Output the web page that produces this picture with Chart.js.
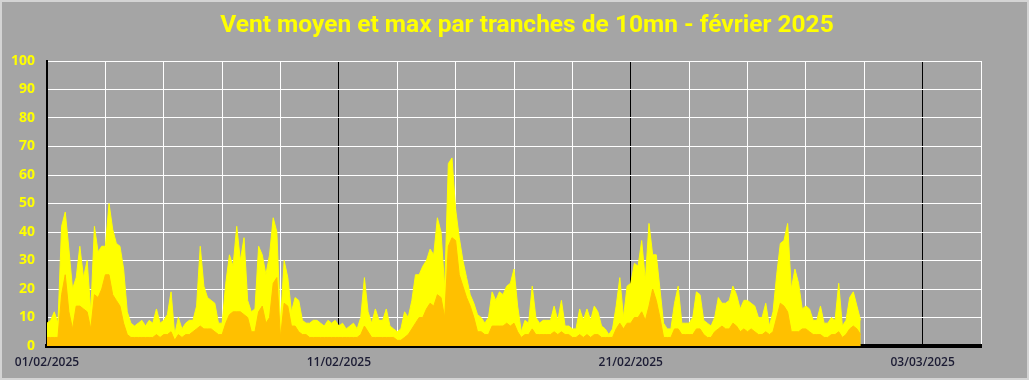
<!DOCTYPE html>
<html>
<head>
<meta charset="utf-8">
<script src="https://cdn.jsdelivr.net/npm/chart.js@4/dist/chart.umd.min.js"></script>
<style>
  body { margin: 0; background: #a5a5a5; }
  #wrap { width: 1029px; height: 380px; }
</style>
</head>
<body>
<div id="wrap"><canvas id="windChart" width="1029" height="380"></canvas></div>
<script>
// Vent max (km/h), un point toutes les 3 heures, 8 par jour, du 01/02 au 28/02
const maxWind = [
  8, 9, 12, 8, 42, 47, 34, 20,
  24, 35, 24, 30, 12, 42, 33, 35,
  35, 50, 41, 36, 35, 27, 12, 8,
  7, 8, 9, 7, 9, 8, 13, 8,
  9, 11, 19, 4, 10, 6, 8, 9,
  9, 14, 35, 21, 17, 16, 15, 8,
  8, 22, 32, 28, 42, 30, 38, 16,
  12, 13, 35, 32, 25, 32, 45, 40,
  8, 30, 24, 12, 17, 16, 9, 8,
  8, 9, 9, 8, 7, 9, 8, 9,
  7, 8, 6, 7, 8, 6, 10, 24,
  12, 8, 13, 9, 9, 13, 7, 6,
  5, 6, 12, 10, 16, 25, 25, 28,
  30, 34, 32, 45, 40, 20, 64, 66,
  48, 38, 30, 24, 18, 15, 11, 10,
  8, 10, 19, 16, 19, 18, 21, 22,
  27, 14, 5, 9, 8, 21, 10, 8,
  9, 9, 9, 14, 9, 16, 7, 7,
  6, 6, 13, 9, 13, 9, 14, 12,
  7, 6, 4, 6, 14, 24, 10, 21,
  22, 29, 28, 37, 23, 43, 32, 32,
  20, 8, 6, 6, 15, 21, 8, 8,
  8, 10, 19, 18, 9, 8, 7, 10,
  17, 15, 15, 16, 21, 18, 13, 16,
  16, 15, 14, 10, 10, 15, 7, 12,
  25, 36, 37, 43, 20, 27, 22, 13,
  14, 13, 9, 9, 14, 8, 8, 10,
  9, 22, 7, 9, 17, 19, 14, 9
];

// Vent moyen (km/h), même pas de temps
const meanWind = [
  3, 3, 3, 3, 18, 25, 12, 6,
  14, 14, 13, 12, 6, 18, 17, 20,
  25, 25, 18, 16, 14, 8, 4, 3,
  3, 3, 3, 3, 3, 3, 4, 3,
  4, 4, 5, 2, 4, 3, 4, 4,
  5, 6, 7, 6, 6, 6, 5, 4,
  4, 8, 11, 12, 12, 12, 11, 10,
  5, 5, 12, 14, 8, 10, 22, 24,
  3, 15, 14, 7, 7, 5, 4, 4,
  3, 3, 3, 3, 3, 3, 3, 3,
  3, 3, 3, 3, 3, 3, 4, 7,
  5, 3, 3, 3, 3, 3, 3, 3,
  2, 2, 3, 4, 6, 8, 10, 10,
  13, 15, 14, 18, 17, 10, 35, 38,
  37, 25, 21, 17, 14, 10, 5, 5,
  4, 4, 7, 7, 7, 7, 8, 7,
  8, 5, 3, 4, 4, 6, 4, 4,
  4, 4, 4, 5, 4, 5, 4, 4,
  3, 3, 4, 3, 4, 3, 4, 4,
  3, 3, 3, 3, 6, 8, 6, 8,
  8, 10, 10, 12, 9, 14, 20, 16,
  10, 3, 3, 3, 6, 6, 4, 4,
  4, 4, 6, 6, 4, 3, 3, 5,
  6, 7, 6, 6, 8, 7, 5, 6,
  5, 6, 5, 4, 4, 5, 4, 5,
  10, 15, 14, 12, 5, 5, 5, 6,
  6, 5, 4, 4, 4, 3, 3, 4,
  4, 5, 3, 4, 6, 7, 6, 4
];

const pointsPerDay = 8;
const dateLabels = ["01/02/2025", "11/02/2025", "21/02/2025", "03/03/2025"];
const yTicks = [0, 10, 20, 30, 40, 50, 60, 70, 80, 90, 100];
const chartTitle = "Vent moyen et max par tranches de 10mn - février 2025";

function toPoints(values) {
    return values.map((v, i) => ({ x: i / pointsPerDay, y: v }));
}

// fond gris, liseré clair et titre jaune
const frame = {
    id: "frame",
    beforeDraw(chart) {
        const c = chart.ctx;
        c.save();
        c.fillStyle = "#a5a5a5";
        c.fillRect(0, 0, chart.width, chart.height);
        c.strokeStyle = "#d4d4d4";
        c.lineWidth = 2;
        c.strokeRect(1, 1, chart.width - 2, chart.height - 2);
        c.restore();
    },
    afterDraw(chart) {
        const c = chart.ctx;
        c.save();
        c.fillStyle = "#ffff00";
        c.font = "bold 24.5px Roboto, sans-serif";
        c.textAlign = "center";
        c.textBaseline = "middle";
        c.fillText(chartTitle, 527, 26);
        c.restore();
    }
};

const ctx = document.getElementById("windChart").getContext("2d");
new Chart(ctx, {
    type: "line",
    data: {
        datasets: [{
            label: "Vent moyen",
            data: toPoints(meanWind),
            borderColor: "#ffc000",
            backgroundColor: "#ffc000",
            borderWidth: 1,
            fill: "origin",
            pointRadius: 0,
            tension: 0,
            order: 1
        }, {
            label: "Vent max",
            data: toPoints(maxWind),
            borderColor: "#ffff00",
            backgroundColor: "#ffff00",
            borderWidth: 1,
            fill: "origin",
            pointRadius: 0,
            tension: 0,
            order: 2
        }]
    },
    options: {
        responsive: false,
        animation: false,
        layout: { padding: { left: 0, right: 48, top: 61, bottom: 0 } },
        plugins: {
            legend: { display: false },
            tooltip: { enabled: false },
            title: { display: false }
        },
        scales: {
            x: {
                type: "linear",
                min: 0,
                max: 32,
                afterFit: scale => { scale.height = 34; },
                border: { color: "#000", width: 4 },
                grid: {
                    color: c => (c.tick && c.tick.value % 10 === 0 ? "#000" : "#ffffff"),
                    lineWidth: 1,
                    drawTicks: false
                },
                ticks: {
                    stepSize: 2,
                    autoSkip: false,
                    maxRotation: 0,
                    padding: 9,
                    color: "#1c1c34",
                    font: { family: "'Open Sans', sans-serif", size: 12, weight: "600" },
                    callback: v => (v % 10 === 0 ? dateLabels[v / 10] : "")
                }
            },
            y: {
                min: 0,
                max: 100,
                afterFit: scale => { scale.width = 47; },
                afterBuildTicks: scale => { scale.ticks = yTicks.map(v => ({ value: v })); },
                border: { color: "#000", width: 2 },
                grid: { color: "#ffffff", lineWidth: 1, drawTicks: false },
                ticks: {
                    padding: 12,
                    color: "#ffff00",
                    font: { family: "'Open Sans', sans-serif", size: 14, weight: "bold" }
                }
            }
        }
    },
    plugins: [frame]
});
</script>
</body>
</html>
